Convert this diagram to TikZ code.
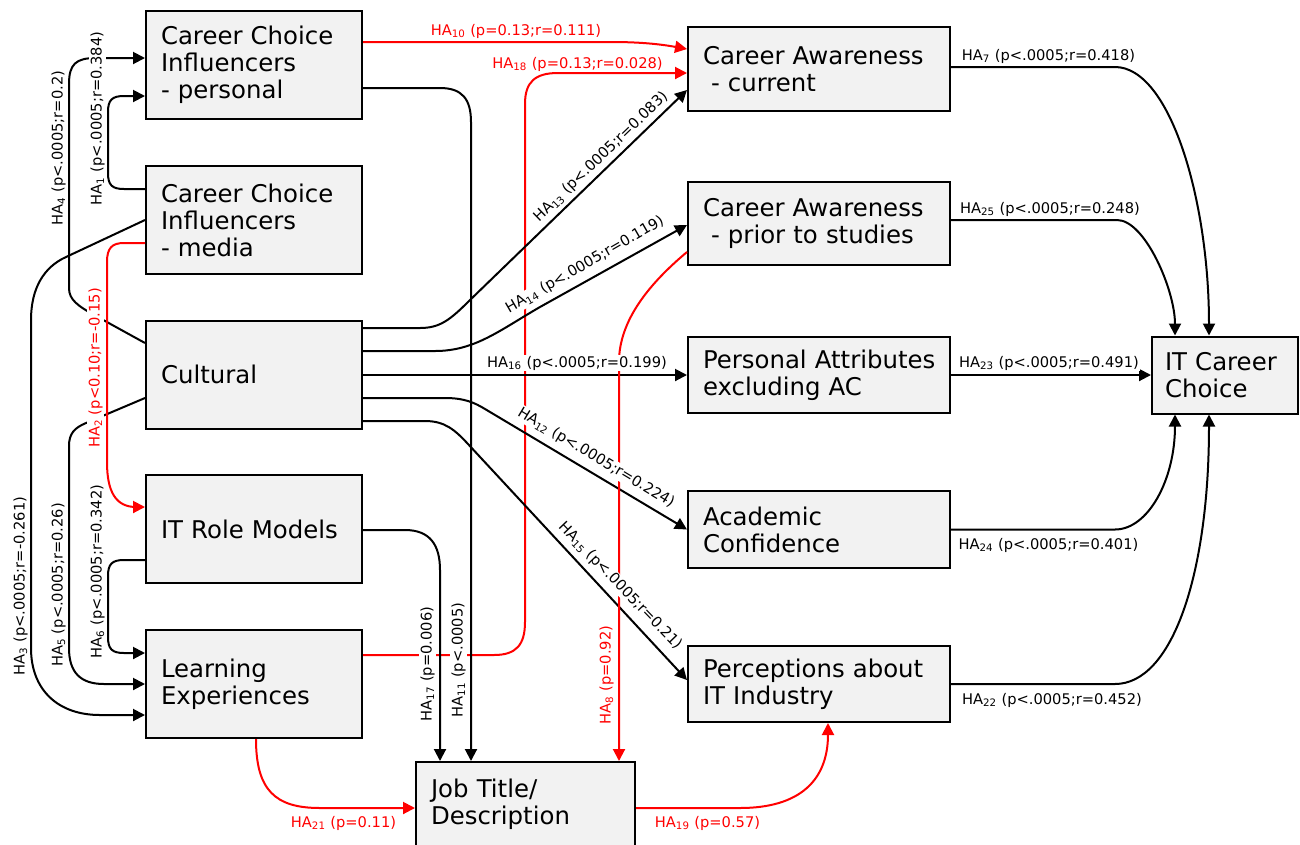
\documentclass[tikz,border=0pt]{standalone}
\usepackage{fontspec}
\setmainfont{DejaVu Sans}
\usetikzlibrary{arrows.meta,calc}

\definecolor{boxfill}{HTML}{F2F2F2}
\definecolor{hred}{HTML}{FF0000}

\newcommand{\boxfont}{\fontsize{18.3}{20.25}\selectfont}
\newcommand{\lblfont}{\fontsize{11}{12.5}\selectfont}
\newcommand{\HA}[1]{HA\textsubscript{#1}}

\tikzset{
  box/.style={draw=black, line width=1.5pt, fill=boxfill, align=left,
    inner xsep=11.25pt, inner ysep=0pt, font=\boxfont},
  leftbox/.style={box, text width=139.5pt, minimum height=81pt},
  midbox/.style={box, text width=174pt},
  conn/.style={line width=1.5pt, -{Triangle[length=9pt,width=9pt]}},
  redconn/.style={conn, draw=hred},
  lbl/.style={font=\lblfont, fill=white, inner sep=0.8pt},
  redlbl/.style={lbl, text=hred}
}

\begin{document}
\begin{tikzpicture}[x=0.75pt,y=-0.75pt]
\useasboundingbox (0,0) rectangle (1300,844);
\clip (0,0) rectangle (1300,844);

% ---- boxes ----
\node[leftbox] (ccip) at (254,65)    {Career Choice\\Influencers\\- personal};
\node[leftbox] (ccim) at (254,220)   {Career Choice\\Influencers\\- media};
\node[leftbox] (cult) at (254,374.5) {Cultural};
\node[leftbox] (itrm) at (254,529)   {IT Role Models};
\node[leftbox] (le)   at (254,684)   {Learning\\Experiences};
\node[box, text width=141.75pt, minimum height=63pt] (jt) at (525.5,804) {Job Title/\\Description};

\node[midbox, minimum height=63pt]    (cac) at (819,69)    {Career Awareness\\\hspace*{0.33em}- current};
\node[midbox, minimum height=62.25pt] (cap) at (819,223.5) {Career Awareness\\\hspace*{0.33em}- prior to studies};
\node[midbox, minimum height=57pt]    (pa)  at (819,375)   {\mbox{Personal Attributes}\\excluding AC};
\node[midbox, minimum height=57.75pt] (ac)  at (819,529.5) {Academic\\Confidence};
\node[midbox, minimum height=57pt]    (pit) at (819,684)   {Perceptions about\\IT Industry};

\node[box, inner xsep=9.75pt, text width=90pt, minimum height=57.75pt] (itcc) at (1225,375) {IT Career\\Choice};

% ---- connectors into the left column ----
% HA4
\draw[conn] ($(cult.west)+(0,-31.5)$) -- (96,316) .. controls (78,306) and (69,300) .. (69,288)
  -- (69,84) .. controls (69,64) and (76,58) .. (96,58) -- ($(ccip.west)+(0,-7)$);
% HA1
\draw[conn] ($(ccim.west)+(0,-31)$) -- (124,189) .. controls (112,189) and (108,185) .. (108,173)
  -- (108,112) .. controls (108,100) and (112,96) .. (124,96) -- ($(ccip.west)+(0,31)$);
% HA3
\draw[conn] (ccim.west) -- (66,257) .. controls (44,267) and (31,288) .. (31,320)
  -- (31,648) .. controls (31,690) and (58,715) .. (100,715) -- ($(le.west)+(0,31)$);
% HA5
\draw[conn] ($(cult.west)+(0,23.5)$) -- (86,423) .. controls (74,428) and (69,434) .. (69,446)
  -- (69,648) .. controls (69,672) and (80,684) .. (104,684) -- (le.west);
% HA6
\draw[conn] ($(itrm.west)+(0,31)$) -- (124,560) .. controls (112,560) and (108,564) .. (108,576)
  -- (108,637) .. controls (108,649) and (112,653) .. (124,653) -- ($(le.west)+(0,-31)$);
% HA2
\draw[redconn] ($(ccim.west)+(0,23)$) -- (124,243) .. controls (112,243) and (107,248) .. (107,262)
  -- (107,462) .. controls (107,492) and (116,507) .. (136,507) -- ($(itrm.west)+(0,-22)$);

% ---- connectors into the middle ----
% HA10
\draw[redconn] ($(ccip.east)+(0,-23)$) -- (612,42) .. controls (645,42) and (665,45) .. ($(cac.west)+(0,-20)$);
% HA18
\draw[redconn] ($(le.east)+(0,-29)$) -- (494,655) .. controls (516,655) and (525,645) .. (525,622)
  -- (525,104) .. controls (525,82) and (535,73) .. (558,73) -- ($(cac.west)+(0,4)$);
% HA11
\draw[conn] ($(ccip.east)+(0,23)$) -- (440,88) .. controls (462,88) and (471,99) .. (471,122)
  -- ($(jt.north)+(-54.5,0)$);
% HA17
\draw[conn] ($(itrm.east)+(0,1)$) -- (405,530) .. controls (430,530) and (440,545) .. (440,570)
  -- ($(jt.north)+(-85.5,0)$);
% HA13
\draw[conn] ($(cult.east)+(0,-46.5)$) -- (420,328) .. controls (440,328) and (450,320) .. (470,300)
  -- ($(cac.west)+(0,21)$);
% HA14
\draw[conn] ($(cult.east)+(0,-23.5)$) -- (435,351) .. controls (475,351) and (500,330) .. (540,307)
  -- ($(cap.west)+(0,1.5)$);
% HA16
\draw[conn] ($(cult.east)+(0,0.5)$) -- (pa.west);
% HA12
\draw[conn] ($(cult.east)+(0,23.5)$) -- (445,398) .. controls (465,398) and (475,403) .. (485,409)
  -- (ac.west);
% HA15
\draw[conn] ($(cult.east)+(0,46.5)$) -- (425,421) .. controls (445,421) and (455,430) .. (468,444)
  -- ($(pit.west)+(0,-4)$);
% HA8
\draw[redconn] ($(cap.west)+(0,28.5)$) .. controls (650,283) and (619,320) .. (619,362)
  -- ($(jt.north)+(93.5,0)$);
% HA21
\draw[redconn] ($(le.south)+(2,0)$) .. controls (256,790) and (275,808) .. (320,808)
  -- ($(jt.west)+(0,4)$);
% HA19
\draw[redconn] ($(jt.east)+(0,4)$) -- (740,808) .. controls (800,808) and (828,780) .. ($(pit.south)+(9,0)$);

% ---- connectors into IT Career Choice ----
% HA7
\draw[conn] ($(cac.east)+(0,-2)$) -- (1115,67) .. controls (1170,67) and (1209,200) .. ($(itcc.north)+(-16,0)$);
% HA25
\draw[conn] ($(cap.east)+(0,-3.5)$) -- (1117,220) .. controls (1145,220) and (1175,290) .. ($(itcc.north)+(-50,0)$);
% HA23
\draw[conn] (pa.east) -- (itcc.west);
% HA24
\draw[conn] (ac.east) -- (1115,529.5) .. controls (1148,529.5) and (1175,480) .. ($(itcc.south)+(-50,0)$);
% HA22
\draw[conn] (pit.east) -- (1115,684) .. controls (1172,684) and (1209,575) .. ($(itcc.south)+(-16,0)$);

% ---- labels ----
\node[lbl, rotate=90] (l4) at (58.6,148)  {\HA{4} (p<.0005;r=0.2)};
\node[lbl, rotate=90] (l1) at (97.6,118.5) {\HA{1} (p<.0005;r=0.384)};
\node[redlbl, rotate=90] (l2) at (95.6,368) {\HA{2} (p<0.10;r=-0.15)};
\node[lbl, rotate=90] (l3) at (20.6,586)  {\HA{3} (p<.0005;r=-0.261)};
\node[lbl, rotate=90] (l5) at (58.6,585)  {\HA{5} (p<.0005;r=0.26)};
\node[lbl, rotate=90] (l6) at (97.6,571.5) {\HA{6} (p<.0005;r=0.342)};
\node[lbl, rotate=90] (l17) at (427.6,664) {\HA{17} (p=0.006)};
\node[lbl, rotate=90] (l11) at (458.6,660) {\HA{11} (p<.0005)};
\node[redlbl, rotate=90] (l8) at (606.6,675) {\HA{8} (p=0.92)};

\node[lbl, rotate=44]  (l13) at (601,157) {\HA{13} (p<.0005;r=0.083)};
\node[lbl, rotate=30]  (l14) at (585,265) {\HA{14} (p<.0005;r=0.119)};
\node[lbl, rotate=-31] (l12) at (596,458) {\HA{12} (p<.0005;r=0.224)};
\node[lbl, rotate=-46] (l15) at (620,586) {\HA{15} (p<.0005;r=0.21)};

\node[redlbl, anchor=base] (l10) at (516,35)   {\HA{10} (p=0.13;r=0.111)};
\node[redlbl, anchor=base] (l18) at (577.5,68) {\HA{18} (p=0.13;r=0.028)};
\node[lbl, anchor=base] (l16) at (577,367)     {\HA{16} (p<.0005;r=0.199)};
\node[lbl, anchor=base] (l7)  at (1048.5,60)   {\HA{7} (p<.0005;r=0.418)};
\node[lbl, anchor=base] (l25) at (1050,213)    {\HA{25} (p<.0005;r=0.248)};
\node[lbl, anchor=base] (l23) at (1049,367)    {\HA{23} (p<.0005;r=0.491)};
\node[lbl, anchor=base] (l24) at (1048.5,549)  {\HA{24} (p<.0005;r=0.401)};
\node[lbl, anchor=base] (l22) at (1052,704)    {\HA{22} (p<.0005;r=0.452)};
\node[redlbl, anchor=base] (l21) at (343.5,827) {\HA{21} (p=0.11)};
\node[redlbl, anchor=base] (l19) at (707.5,827) {\HA{19} (p=0.57)};

\end{tikzpicture}
\end{document}
